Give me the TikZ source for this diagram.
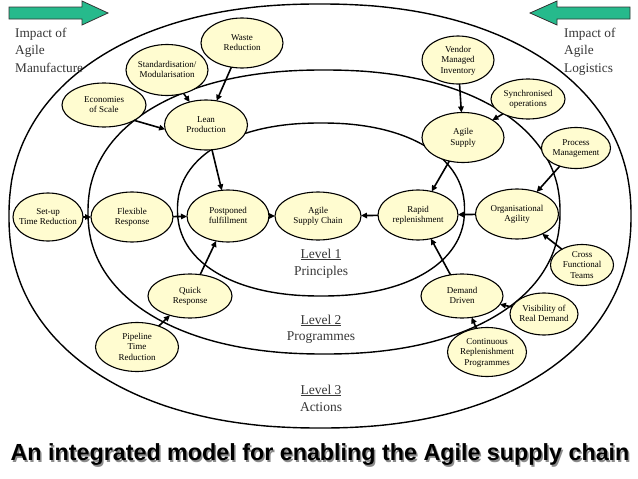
\documentclass[tikz,border=0pt]{standalone}
\usepackage{fontspec}
\setmainfont{Liberation Serif}
\newfontfamily\capfont{Liberation Sans}
\usetikzlibrary{shapes.geometric,arrows.meta}
\definecolor{cream}{RGB}{255,252,208}
\definecolor{agreen}{RGB}{38,186,140}
\definecolor{lbl}{RGB}{55,55,55}
\newcommand\bubtext[1]{\makebox[0pt]{\raisebox{-0.3em}[0pt][0pt]{\begin{tabular}{@{}c@{}}#1\end{tabular}}}}
\newcommand\myring[4]{\draw[ringline] plot[smooth cycle, domain=0.5:358, samples=144, variable=\t]
  ({#1+#3*sign(cos(\t))*pow(abs(cos(\t)),0.91)},{#2+#4*sign(sin(\t))*pow(abs(sin(\t)),0.91)});}
\tikzset{
  ringline/.style={line width=1.4pt, black},
  bub/.style={ellipse, draw=black, line width=1.1pt, fill=cream, inner sep=0pt, outer sep=0pt,
    font=\fontsize{9}{10.5}\selectfont},
  con/.style={line width=1.6pt, -{Triangle[length=6pt,width=5.5pt]}},
  lvl/.style={font=\fontsize{13.5}{16}\selectfont, text=lbl, inner sep=0pt},
  imp/.style={font=\fontsize{13.3}{16}\selectfont, text=lbl, inner sep=0pt, anchor=base west},
  garrow/.style={fill=agreen, draw=black!80, line width=0.8pt, line join=miter},
  captxt/.style={font=\capfont\bfseries\fontsize{23.3}{26}\selectfont, inner sep=0pt},
}
\begin{document}
\begin{tikzpicture}[x=1pt,y=-1pt]
\fill[white] (0,0) rectangle (638,479);
\useasboundingbox (0,0) rectangle (638,479);
% rings
\myring{320}{216}{311}{212}
\myring{324}{212}{236}{142}
\myring{321}{209.5}{143.5}{86.5}
% green arrows
\draw[garrow] (9,7) -- (82,7) -- (82,1) -- (108,13) -- (82,25) -- (82,19) -- (9,19) -- cycle;
\draw[garrow] (630,7) -- (557,7) -- (557,1) -- (530,13) -- (557,25) -- (557,19) -- (630,19) -- cycle;
% top labels
\node[imp] (im1) at (15,37) {Impact of};
\node[imp] (im2) at (15,54.5) {Agile};
\node[imp] (im3) at (15,72) {Manufacture};
\node[imp] (il1) at (564,37) {Impact of};
\node[imp] (il2) at (564,54.5) {Agile};
\node[imp] (il3) at (564,72) {Logistics};
% level labels
\node[lvl, anchor=base] (l1a) at (321,258) {\underline{Level 1}};
\node[lvl, anchor=base] (l1b) at (321,275) {Principles};
\node[lvl, anchor=base] (l2a) at (321,324) {\underline{Level 2}};
\node[lvl, anchor=base] (l2b) at (321,340) {Programmes};
\node[lvl, anchor=base] (l3a) at (321,394) {\underline{Level 3}};
\node[lvl, anchor=base] (l3b) at (321,411) {Actions};
% nodes
\node[bub, minimum width=82pt, minimum height=50pt] (wr) at (242,43) {\bubtext{Waste\\Reduction}};
\node[bub, minimum width=82pt, minimum height=51pt] (std) at (167,70) {\bubtext{Standardisation/\\Modularisation}};
\node[bub, minimum width=84pt, minimum height=44pt] (eco) at (104,105) {\bubtext{Economies\\of Scale}};
\node[bub, minimum width=83pt, minimum height=50pt] (lp) at (206,125) {\bubtext{Lean\\Production}};
\node[bub, minimum width=72pt, minimum height=48pt] (vmi) at (458,60) {\bubtext{Vendor\\Managed\\Inventory}};
\node[bub, minimum width=74pt, minimum height=40pt] (syn) at (528,99) {\bubtext{Synchronised\\operations}};
\node[bub, minimum width=82pt, minimum height=50pt] (as) at (463,137.5) {\bubtext{Agile\\Supply}};
\node[bub, minimum width=69pt, minimum height=41pt] (pm) at (576,148) {\bubtext{Process\\Management}};
\node[bub, minimum width=70pt, minimum height=48pt] (set) at (48,217) {\bubtext{Set-up\\Time Reduction}};
\node[bub, minimum width=82pt, minimum height=50pt] (flex) at (132,217) {\bubtext{Flexible\\Response}};
\node[bub, minimum width=82pt, minimum height=52pt] (pf) at (228,216) {\bubtext{Postponed\\fulfillment}};
\node[bub, minimum width=86pt, minimum height=48pt] (asc) at (318,216) {\bubtext{Agile\\Supply Chain}};
\node[bub, minimum width=80pt, minimum height=50pt] (rr) at (418,215) {\bubtext{Rapid\\replenishment}};
\node[bub, minimum width=83pt, minimum height=50pt] (oa) at (517,214) {\bubtext{Organisational\\Agility}};
\node[bub, minimum width=63pt, minimum height=41pt] (cft) at (582,265) {\bubtext{Cross\\Functional\\Teams}};
\node[bub, minimum width=82pt, minimum height=44pt] (dd) at (462,296) {\bubtext{Demand\\Driven}};
\node[bub, minimum width=68pt, minimum height=42pt] (vis) at (544,314) {\bubtext{Visibility of\\Real Demand}};
\node[bub, minimum width=79pt, minimum height=49pt] (crp) at (487,352) {\bubtext{Continuous\\Replenishment\\Programmes}};
\node[bub, minimum width=84pt, minimum height=44pt] (qr) at (190,296) {\bubtext{Quick\\Response}};
\node[bub, minimum width=83pt, minimum height=49pt] (pip) at (137,347) {\bubtext{Pipeline\\Time\\Reduction}};
% connectors
\draw[con] (wr) -- (lp);
\draw[con] (std) -- (lp);
\draw[con] (eco.-27) -- (lp.186);
\draw[con] (lp) -- (pf);
\draw[con] (set) -- (flex);
\draw[con] (flex) -- (pf);
\draw[con] (qr) -- (pf);
\draw[con] (pip) -- (qr);
\draw[con] (pf) -- (asc);
\draw[con] (rr) -- (asc);
\draw[con] (oa) -- (rr);
\draw[con] (as) -- (rr);
\draw[con] (vmi) -- (as);
\draw[con] (syn) -- (as);
\draw[con] (pm) -- (oa);
\draw[con] (cft) -- (oa);
\draw[con] (dd) -- (rr);
\draw[con] (vis) -- (dd);
\draw[con] (crp) -- (dd);
% caption
\node[captxt, text=black!45] (caps) at (321.5,456.5) {An integrated model for enabling the Agile supply chain};
\node[captxt, text=black] (cap) at (320,455) {An integrated model for enabling the Agile supply chain};
\end{tikzpicture}
\end{document}
